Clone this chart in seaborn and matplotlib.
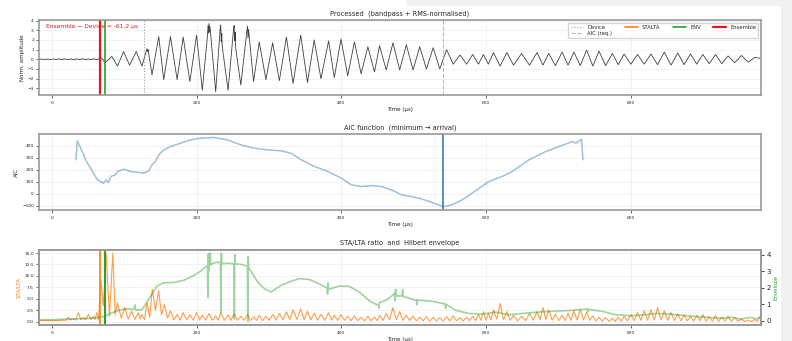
import pandas as pd
import matplotlib
matplotlib.use("Agg")
import matplotlib.pyplot as plt
import seaborn as sns
from matplotlib.patches import Rectangle

# picks (µs)
t_device = 127.8
t_aic = 540.0
t_stalta = 66.6
t_env = 73.6
t_ensemble = 66.6

wave_t = [-18, -14, -10, -6, -2, 2, 6, 10, 14, 18, 22, 26, 30, 34, 38, 42, 46, 50, 54, 58, 62, 66, 69,
          73.6, 82.9, 90.7, 99.1, 107.4, 116.7, 124.5, 130.5, 131.5, 132.3, 133.0, 138.4, 147.7, 154.6,
          163.9, 173.1, 181.5, 190.7, 200.0, 207.9, 215.0, 215.8, 216.4, 217.1, 217.8, 218.5, 226.4,
          232.6, 233.3, 234.1, 234.8, 235.5, 243.5, 251.2, 251.9, 252.6, 253.3, 254.0, 261.1, 269.6,
          270.4, 271.1, 271.8, 278.7, 286.6, 295.8, 305.1, 314.4, 324.1, 333.3, 343.9, 353.2, 362.5,
          371.8, 382.4, 390.3, 399.5, 408.8, 418.1, 427.3, 436.6, 445.8, 452.8, 462.0, 471.3, 480.6,
          489.8, 499.1, 508.3, 517.6, 526.9, 536.0, 545.4, 554.6, 563.9, 573.1, 581.5, 589.4, 596.3,
          603.2, 610.2, 619.4, 628.7, 637.9, 649.0, 660.0, 670.4, 678.5, 686.6, 695.8, 705.1, 713.2,
          721.3, 730.1, 738.9, 747.5, 756.0, 765.2, 774.5, 782.6, 790.7, 800.0, 809.3, 818.5, 827.8,
          837.0, 846.3, 855.5, 864.8, 873.6, 882.4, 891.0, 899.5, 908.3, 917.1, 925.7, 934.3, 943.5,
          952.8, 962.0, 971.3, 980.0]
wave_v = [0.00, 0.03, -0.02, 0.02, -0.03, 0.04, -0.02, 0.05, -0.04, 0.06, -0.05, 0.04, -0.06, 0.05,
          -0.03, 0.06, -0.05, 0.04, -0.04, 0.05, -0.03, 0.08, 0.12,
          -0.35, 0.30, -0.70, 0.80, -0.60, 0.80, -0.70, 0.85, 1.10, 0.80, 1.00, -1.60, 2.35, -2.10,
          2.35, -2.10, 2.30, -2.30, 2.50, -3.20, 2.40, 3.50, 2.70, 3.70, 2.80, 3.40, -3.35,
          3.20, 3.55, 1.80, 2.70, 1.30, -3.20, 3.20, 3.50, 1.90, 2.80, 1.20, -2.65, 3.00,
          3.40, 2.20, 3.10, -2.30, 1.80, -2.10, 1.70, -2.20, 2.30, -2.50, 2.50, -2.40, 2.00,
          -2.00, 1.90, -1.90, 2.10, -1.70, 1.80, -1.50, 1.30, -1.30, 1.40, -1.10, 1.70, -1.10,
          1.50, -1.10, 1.30, -1.00, 1.20, -1.00, 1.00, -0.50, 0.45, -0.50, 0.50, -0.50, 0.50,
          -0.50, 0.70, -0.70, 0.70, -0.60, 0.60, -0.60, 0.70, -0.60, 0.60, -0.65, 0.75, -0.60,
          0.75, -0.65, 0.95, -0.70, 0.85, -0.65, 0.60, -0.55, 0.55, -0.50, 0.50, -0.50, 0.55,
          -0.55, 0.75, -0.60, 0.65, -0.55, 0.55, -0.50, 0.50, -0.45, 0.50, -0.45, 0.35, -0.35,
          0.40, -0.30, 0.20, 0.10]

# AIC function
aic_t = [33.3, 35.2, 48.1, 63.0, 71.3, 75.0, 78.2, 81.5, 87.5, 92.1, 100.0, 108.3, 117.6, 126.9,
         133.8, 138.4, 143.0, 147.7, 154.6, 163.9, 177.8, 191.7, 205.6, 224.1, 242.6, 261.1, 279.6,
         298.1, 316.7, 330.6, 344.4, 363.0, 381.5, 400.0, 413.9, 427.8, 441.7, 455.6, 469.4, 483.3,
         497.2, 511.1, 525.0, 536.6, 541.2, 552.8, 566.7, 580.6, 603.7, 622.2, 636.1, 659.3, 682.4,
         700.9, 719.4, 724.1, 731.9, 733.8]
aic_v = [283, 442, 268, 115, 87, 115, 92, 143, 157, 190, 204, 185, 179, 171,
         190, 240, 268, 324, 366, 394, 422, 450, 464, 470, 450, 408, 380,
         366, 358, 338, 283, 227, 185, 129, 73, 59, 67, 59, 31, -11,
         -25, -45, -73, -100, -109, -95, -53, 3, 101, 143, 185, 283, 352,
         394, 436, 422, 456, 283]

# STA/LTA ratio
sta_t = [-18, -5, 10, 20, 22.7, 26.2, 29.6, 33.1, 36.6, 40.0, 43.5, 47.0, 50.5, 54.0, 57.4, 59.7,
         62.0, 64.5, 67.6, 71.3, 75.0, 79.6, 84.3, 87.5, 90.7, 95.8, 100.9, 105.5, 110.0, 114.7,
         119.4, 122.0, 124.5, 128.0, 131.5, 135.2, 138.9, 143.2, 147.5, 151.5, 155.6, 159.8, 163.9,
         168.5, 173.1, 177.3, 181.5, 186.1, 190.7, 195.4, 200.0, 204.0, 207.9, 212.5, 217.1, 221.8,
         226.4, 229.9, 233.3, 238.4, 243.5, 247.7, 251.9, 256.5, 261.1, 265.8, 270.4, 274.6, 278.7,
         282.7, 286.6, 291.2, 295.8, 300.5, 305.1, 309.8, 314.4, 319.3, 324.1, 328.7, 333.3, 338.6,
         343.9, 348.6, 353.2, 357.9, 362.5, 367.2, 371.8, 377.1, 382.4, 386.4, 390.3, 394.9, 399.5,
         404.2, 408.8, 413.5, 418.1, 422.7, 427.3, 432.0, 436.6, 441.2, 445.8, 449.3, 452.8, 457.4,
         462.0, 466.7, 471.3, 476.0, 480.6, 485.2, 489.8, 494.5, 499.1, 503.7, 508.3, 513.0, 517.6,
         522.3, 526.9, 531.5, 536.0, 540.7, 545.4, 550.0, 554.6, 559.3, 563.9, 568.5, 573.1, 577.3,
         581.5, 585.5, 589.4, 592.9, 596.3, 599.8, 603.2, 606.7, 610.2, 614.8, 619.4, 624.1, 628.7,
         633.3, 637.9, 643.5, 649.0, 654.5, 660.0, 665.2, 670.4, 674.5, 678.5, 682.6, 686.6, 691.2,
         695.8, 700.5, 705.1, 709.2, 713.2, 717.3, 721.3, 725.7, 730.1, 734.5, 738.9, 743.2, 747.5,
         751.8, 756.0, 760.6, 765.2, 769.9, 774.5, 778.6, 782.6, 786.7, 790.7, 795.4, 800.0, 804.7,
         809.3, 813.9, 818.5, 823.2, 827.8, 832.4, 837.0, 841.7, 846.3, 850.9, 855.5, 860.2, 864.8,
         869.2, 873.6, 878.0, 882.4, 886.7, 891.0, 895.3, 899.5, 903.9, 908.3, 912.7, 917.1, 921.4,
         925.7, 930.0, 934.3, 938.9, 943.5, 948.2, 952.8, 957.4, 962.0, 966.7, 971.3, 974.9, 978.0,
         980.0]
sta_v = [0.30, 0.28, 0.30, 0.35, 1.0, 0.4, 0.7, 0.35, 2.0, 0.5, 0.9, 0.4, 1.6, 0.5, 1.2, 0.5,
         2.0, 0.4, 9.3, 3.5, 14.85, 1.2, 15.0, 1.5, 4.2, 0.8, 3.1, 0.6, 2.3, 0.5,
         2.0, 0.6, 1.6, 0.5, 4.2, 1.0, 7.1, 2.5, 6.8, 1.5, 3.8, 0.8, 2.4,
         0.4, 1.6, 0.35, 2.0, 0.4, 1.5, 0.35, 2.0, 0.4, 1.4, 0.35, 1.8, 0.3,
         1.3, 0.35, 2.0, 0.3, 1.5, 0.35, 1.8, 0.3, 1.2, 0.3, 1.6, 0.25, 1.1,
         0.3, 1.4, 0.25, 1.2, 0.3, 1.6, 0.35, 1.8, 0.4, 2.2, 0.5, 2.6, 0.5,
         2.8, 0.45, 2.3, 0.4, 1.9, 0.35, 1.6, 0.3, 2.0, 0.35, 1.4, 0.3, 1.6,
         0.3, 1.2, 0.25, 1.3, 0.25, 1.0, 0.2, 1.2, 0.2, 1.0, 0.25, 1.4, 0.3,
         1.8, 0.4, 3.1, 0.5, 2.2, 0.3, 1.4, 0.25, 1.2, 0.2, 1.0, 0.2, 1.1,
         0.15, 1.0, 0.15, 0.9, 0.15, 1.1, 0.2, 1.3, 0.2, 0.9, 0.15, 1.0, 0.2,
         1.2, 0.25, 1.6, 0.3, 2.2, 0.35, 1.8, 0.4, 2.6, 0.6, 4.0, 0.5, 2.2,
         0.3, 1.4, 0.2, 1.2, 0.25, 1.8, 0.35, 2.2, 0.4, 3.1, 0.5, 2.6, 0.35,
         1.6, 0.25, 1.4, 0.25, 1.9, 0.3, 2.4, 0.4, 2.7, 0.4, 2.1, 0.3, 1.3,
         0.15, 1.0, 0.15, 0.9, 0.1, 0.8, 0.1, 1.0, 0.15, 1.2, 0.2, 1.6, 0.25,
         2.0, 0.3, 2.4, 0.35, 2.6, 0.4, 3.1, 0.4, 2.4, 0.3, 2.0, 0.25, 1.8,
         0.2, 1.5, 0.15, 1.2, 0.15, 1.4, 0.2, 1.6, 0.15, 1.1, 0.15, 1.3, 0.1,
         1.0, 0.15, 1.2, 0.1, 0.9, 0.1, 0.6, 0.05, 0.4, 0.05, 0.5, 0.1, 1.0,
         1.6]

# Hilbert envelope
env_t = [-18, 0, 20, 40, 55, 66.7, 75, 80.6, 92.1, 99, 108.3, 113, 115, 116, 124.5, 131.5, 138.4,
         145.4, 154.6, 168.5, 182.4, 196.3, 205.6, 212, 215.0, 215.6, 216.2, 216.8, 218.3, 219,
         219.6, 224, 233.0, 233.6, 234.2, 234.8, 243, 251.6, 252.2, 252.8, 253.4, 261, 270.2,
         270.8, 271.4, 272, 278, 284.3, 293.5, 302.8, 316.7, 327.8, 341.7, 355.6, 369.4, 380,
         381, 381.6, 382.3, 397.2, 411.1, 425, 438.9, 448.1, 451, 452, 452.6, 462, 471, 473.6,
         474.3, 475, 475.7, 483.3, 485, 485.7, 490, 501.9, 504, 504.6, 505.2, 525, 540, 543.5,
         544.1, 544.7, 557.4, 575.9, 594.4, 612.9, 631.5, 650, 677.8, 714.8, 737.9, 740, 740.6,
         741.2, 761, 779.6, 798.1, 816.7, 835.2, 853.7, 876.9, 900, 923.1, 941.7, 950.9, 964.8,
         974.1, 980]
env_v = [0.05, 0.06, 0.10, 0.12, 0.15, 0.20, 0.30, 0.44, 0.62, 0.70, 0.72, 0.68, 0.95, 0.65, 0.66,
         1.14, 1.64, 2.10, 2.30, 2.32, 2.45, 2.75, 3.00, 3.25, 3.30, 1.40, 4.05, 3.00, 3.50, 4.10,
         3.40, 3.50, 3.55, 0.50, 4.10, 3.45, 3.48, 3.45, 0.10, 4.00, 3.45, 3.42, 3.30,
         -0.05, 3.90, 3.20, 2.80, 2.34, 1.95, 1.74, 2.14, 2.34, 2.55, 2.50, 2.24, 1.98,
         1.60, 2.30, 1.90, 2.10, 2.08, 1.74, 1.20, 0.98, 0.98, 0.75, 1.10, 1.24, 1.55, 1.70,
         1.20, 1.90, 1.50, 1.50, 1.90, 1.45, 1.42, 1.24, 1.25, 0.95, 1.25, 1.18, 1.05, 1.00,
         0.75, 1.00, 0.64, 0.44, 0.40, 0.52, 0.36, 0.44, 0.54, 0.62, 0.70, 0.72, 0.55,
         0.70, 0.56, 0.36, 0.30, 0.34, 0.44, 0.40, 0.30, 0.22, 0.16, 0.20, 0.10, 0.20,
         0.12, 0.25]

wave = pd.DataFrame({"t": wave_t, "v": wave_v})
aic = pd.DataFrame({"t": aic_t, "v": aic_v})
sta = pd.DataFrame({"t": sta_t, "v": sta_v})
env = pd.DataFrame({"t": env_t, "v": env_v})

sns.set_style("whitegrid", {
    "axes.edgecolor": "0.6",
    "grid.color": "0.93",
    "xtick.bottom": True,
    "ytick.left": True,
})
plt.rcParams.update({
    "font.family": ["DejaVu Sans"],
    "axes.linewidth": 1.2,
    "xtick.labelsize": 3.2,
    "ytick.labelsize": 3.2,
    "axes.labelsize": 4,
    "axes.titlesize": 4.8,
    "xtick.major.size": 2,
    "ytick.major.size": 2,
    "xtick.major.width": 0.5,
    "ytick.major.width": 0.5,
    "xtick.major.pad": 2,
    "ytick.major.pad": 1.5,
    "grid.linewidth": 0.5,
    "axes.labelpad": 2,
})

fig = plt.figure(figsize=(7.92, 3.41), dpi=100)
ax1 = fig.add_axes([0.049, 0.721, 0.912, 0.22])
ax2 = fig.add_axes([0.049, 0.384, 0.912, 0.223])
ax3 = fig.add_axes([0.049, 0.047, 0.912, 0.221])
xlim = (wave_t[0], wave_t[-1])

# --- processed waveform
sns.lineplot(data=wave, x="t", y="v", ax=ax1, sort=False, estimator=None, color="0.25", lw=0.6)
ax1.axvline(t_device, color="0.6", ls=":", lw=0.8, label="Device")
ax1.axvline(t_aic, color="#6baed6", alpha=0.7, ls="--", lw=0.8, label="AIC (req.)")
ax1.axvline(t_stalta, color="#ff7f0e", lw=1.2, label="STALTA")
ax1.axvline(t_env, color="#2ca02c", lw=1.2, label="ENV")
ax1.axvline(t_ensemble, color="#e31a1c", lw=1.6, label="Ensemble")
ax1.text(0.01, 0.91, f"Ensemble − Device = {t_ensemble - t_device:.1f} µs", transform=ax1.transAxes,
         color="#e31a1c", fontsize=4.3, va="center")
ax1.legend(loc="upper right", ncol=4, fontsize=3.8, frameon=True, handlelength=2.4,
           borderpad=0.4, columnspacing=2.4, labelspacing=0.2)
ax1.set_title("Processed  (bandpass + RMS-normalised)", pad=3)
ax1.set_xlabel("Time (µs)")
ax1.set_ylabel("Norm. amplitude")
ax1.set_xlim(xlim)

# --- AIC
sns.lineplot(data=aic, x="t", y="v", ax=ax2, sort=False, estimator=None, color="#1f77b4", alpha=0.45, lw=1.1)
ax2.axvline(t_aic, color="#1f77b4", lw=1.1)
ax2.set_title("AIC function  (minimum → arrival)", pad=3)
ax2.set_xlabel("Time (µs)")
ax2.set_ylabel("AIC")
ax2.set_xlim(xlim)

# --- STA/LTA + envelope
sns.lineplot(data=sta, x="t", y="v", ax=ax3, sort=False, estimator=None, color="#ff7f0e", alpha=0.75, lw=0.8)
ax3.axvline(t_stalta, color="#ff7f0e", lw=1.2)
ax3.axvline(t_env, color="#2ca02c", lw=1.5)
ax3.set_ylabel("STA/LTA", color="#ff7f0e")
ax3.set_xlabel("Time (µs)")
ax3.set_title("STA/LTA ratio  and  Hilbert envelope", pad=3)
ax3.set_xlim(xlim)

ax3b = ax3.twinx()
sns.lineplot(data=env, x="t", y="v", ax=ax3b, sort=False, estimator=None, color="#2ca02c", alpha=0.45, lw=1.2)
ax3b.grid(False)
ax3b.tick_params(axis="y", right=True, labelsize=5, length=2.5, width=0.6)
ax3b.set_ylabel("Envelope", color="#2ca02c")
ax3b.set_xlim(xlim)

# notebook screenshot margin
fig.add_artist(Rectangle((0.986, 0), 0.014, 1, transform=fig.transFigure, color="#f0f0f0", zorder=-1))
fig.add_artist(Rectangle((0.514, 0.985), 0.486, 0.015, transform=fig.transFigure, color="#f0f0f0", zorder=-1))

fig.savefig("out.png", dpi=100)
